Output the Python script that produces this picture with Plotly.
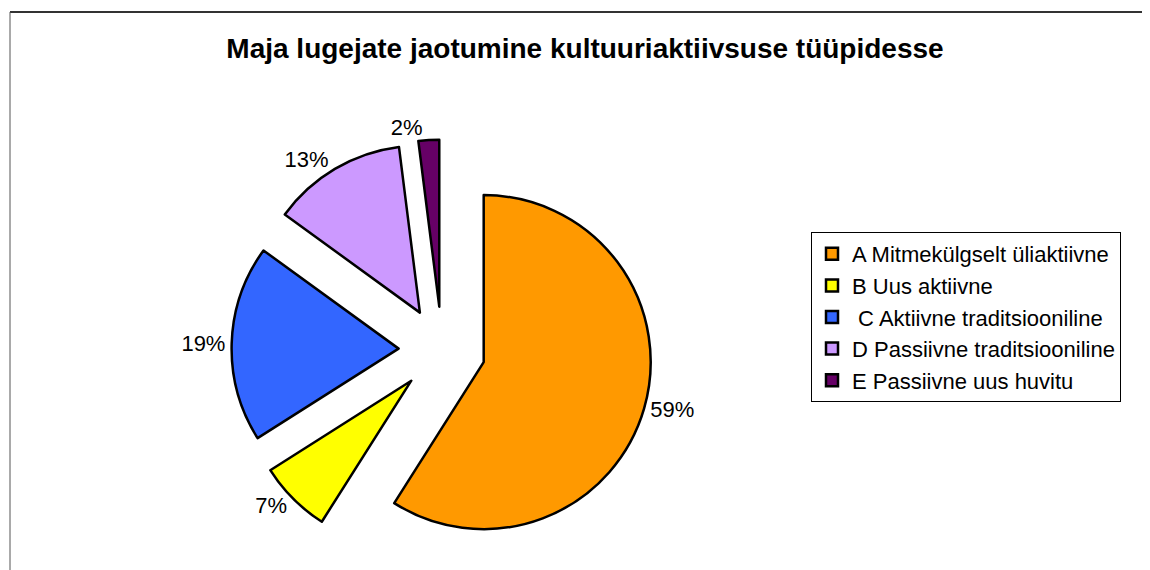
import plotly.graph_objects as go

categories = ["A Mitmekülgselt üliaktiivne", "B Uus aktiivne", " C Aktiivne traditsiooniline",
              "D Passiivne traditsiooniline", "E Passiivne uus huvitu"]
values = [59, 7, 19, 13, 2]
colors = ["#FF9900", "#FFFF00", "#3366FF", "#CC99FF", "#660066"]
title_text = "Maja lugejate jaotumine kultuuriaktiivsuse tüüpidesse"

W, H = 1150, 570
OFF = 8  # page body margin
font = "Liberation Sans, Arial, sans-serif"


def px(x):
    return (x - OFF) / W


def py(y):
    return 1 - (y - OFF) / H


# pie geometry (reference pixel coordinates)
cx, cy, R, PULL = 442, 350, 167, 0.26
half = R * (1 + PULL)

fig = go.Figure(go.Pie(
    labels=categories,
    values=values,
    sort=False,
    direction="clockwise",
    rotation=0,
    pull=[PULL] * len(values),
    marker=dict(colors=colors, line=dict(color="black", width=2.5)),
    textposition="outside",
    texttemplate="%{percent:.0%}",
    textfont=dict(family=font, size=22, color="black"),
    domain=dict(x=[px(cx - half), px(cx + half)], y=[py(cy + half), py(cy - half)]),
    showlegend=True,
    hoverinfo="label+percent",
))

fig.update_layout(
    width=W, height=H,
    margin=dict(l=0, r=0, t=0, b=0, autoexpand=False),
    paper_bgcolor="white",
    plot_bgcolor="white",
    title=dict(text="<b>" + title_text + "</b>", x=px(585), xanchor="center",
               y=py(48), yanchor="middle",
               font=dict(family=font, size=28, color="black")),
    legend=dict(x=px(811), y=py(232), xanchor="left", yanchor="top",
                bgcolor="white", bordercolor="black", borderwidth=1,
                font=dict(family=font, size=22, color="black"),
                itemwidth=30),
    shapes=[
        dict(type="line", xref="paper", yref="paper", x0=px(10), x1=1, y0=py(12), y1=py(12),
             line=dict(color="#333333", width=2)),
        dict(type="line", xref="paper", yref="paper", x0=px(10), x1=px(10), y0=-0.05, y1=py(12),
             line=dict(color="#555555", width=1)),
    ],
)

fig.write_html("out.html")
